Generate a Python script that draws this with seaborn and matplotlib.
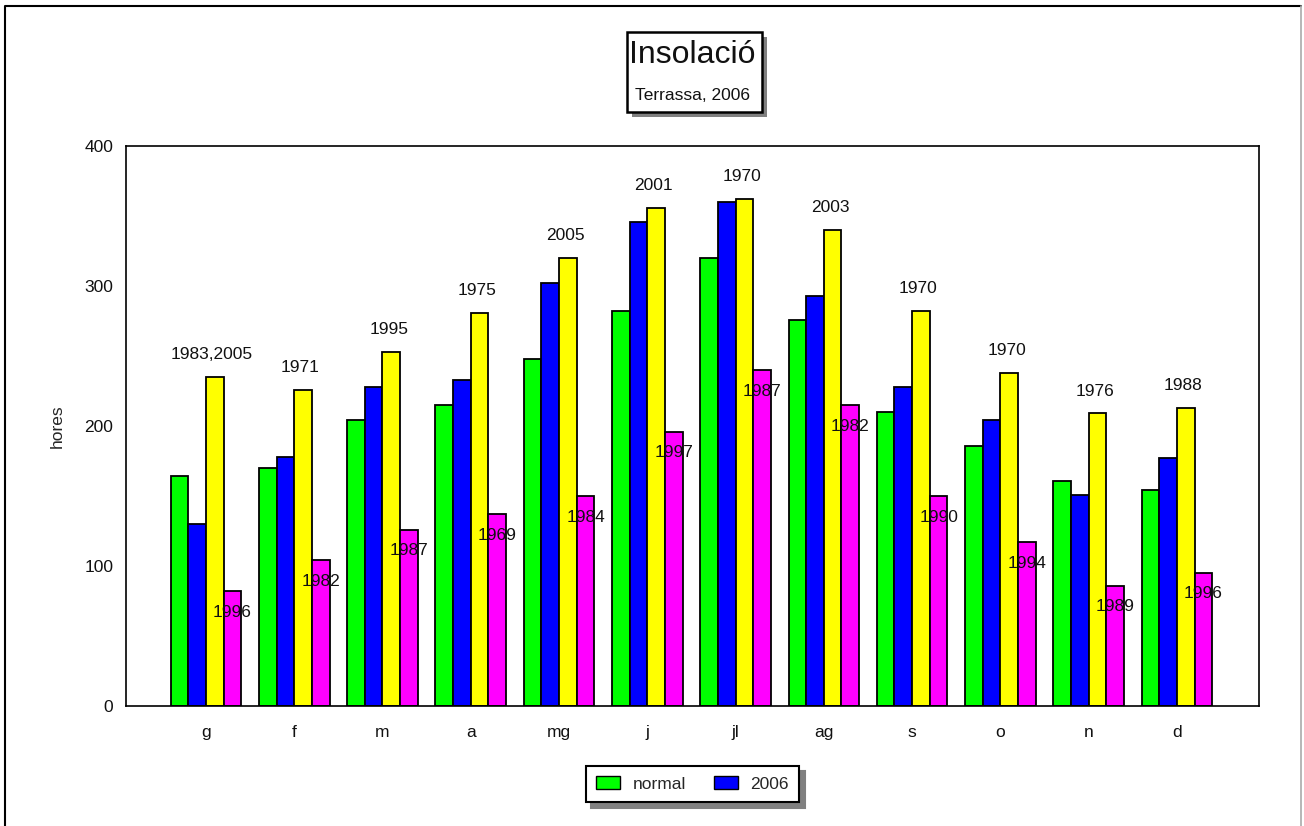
import pandas as pd
import matplotlib.pyplot as plt
import seaborn as sns
from matplotlib.patches import Patch, Rectangle
from matplotlib.lines import Line2D

# dades llegides del gràfic original
mesos = ['g', 'f', 'm', 'a', 'mg', 'j', 'jl', 'ag', 's', 'o', 'n', 'd']
normal = [164, 170, 204, 215, 248, 282, 320, 276, 210, 186, 161, 154]
any_2006 = [130, 178, 228, 233, 302, 346, 360, 293, 228, 204, 151, 177]
maxim = [235, 226, 253, 281, 320, 356, 362, 340, 282, 238, 209, 213]
minim = [82, 104, 126, 137, 150, 196, 240, 215, 150, 117, 86, 95]
anys_max = ['1983,2005', '1971', '1995', '1975', '2005', '2001',
            '1970', '2003', '1970', '1970', '1976', '1988']
anys_min = ['1996', '1982', '1987', '1969', '1984', '1997',
            '1987', '1982', '1990', '1994', '1989', '1996']

series = ['normal', '2006', 'max', 'min']
colors = ['#00ff00', '#0000ff', '#ffff00', '#ff00ff']

df = pd.DataFrame({
    'mes': mesos * 4,
    'serie': [s for s in series for _ in mesos],
    'hores': normal + any_2006 + maxim + minim,
})

sns.set_style('white')
plt.rcParams['font.family'] = ['Liberation Sans', 'DejaVu Sans']

fs = 12.5
fig = plt.figure(figsize=(13.04, 8.26), dpi=100)
ax = fig.add_axes([0.0966, 0.1453, 0.8689, 0.6779])

sns.barplot(data=df, x='mes', y='hores', hue='serie', order=mesos,
            hue_order=series, palette=colors, width=0.8,
            edgecolor='black', linewidth=1.3, saturation=1,
            legend=False, ax=ax)

# etiquetes dels anys extrems
for i in range(len(mesos)):
    ax.text(i + 0.07, maxim[i] + 16, anys_max[i], ha='center', va='center',
            fontsize=fs, color='#111111')
    ax.text(i + 0.3, minim[i] - 15, anys_min[i], ha='center', va='center',
            fontsize=fs, color='#111111')

ax.set_xlim(-0.906, 11.93)
ax.set_ylim(0, 400)
ax.set_yticks([0, 100, 200, 300, 400])
ax.tick_params(axis='y', direction='in', length=12, width=1.2,
               labelsize=fs, pad=9, colors='black', labelcolor='#111111')
ax.tick_params(axis='x', length=0, labelsize=fs, pad=14, labelcolor='#111111')
ax.set_xlabel('')
ax.set_ylabel('hores', fontsize=fs, labelpad=14)
for sp in ax.spines.values():
    sp.set_visible(True)
    sp.set_color('black')
    sp.set_linewidth(1.2)

# llegenda amb ombra
handles = [Patch(facecolor=colors[0], edgecolor='black', label='normal'),
           Patch(facecolor=colors[1], edgecolor='black', label='2006')]
leg = ax.legend(handles=handles, ncol=2, loc='center',
                bbox_to_anchor=(0.531, 0.0508), bbox_transform=fig.transFigure,
                fontsize=fs, frameon=True, fancybox=False,
                shadow={'color': '#808080', 'ox': 4, 'oy': -4, 'alpha': 1},
                handlelength=1.4, handleheight=0.8, columnspacing=1.6,
                borderpad=0.6, handletextpad=0.7)
leg.get_frame().set_edgecolor('black')
leg.get_frame().set_linewidth(1.5)
leg.get_frame().set_alpha(1)

# quadre del títol
x0, y0, w, h = 0.4808, 0.8644, 0.1035, 0.0969
fig.patches.append(Rectangle((x0 + 5 / 1304, y0 - 5 / 826), w, h,
                             transform=fig.transFigure, facecolor='#808080',
                             edgecolor='none', zorder=1))
fig.patches.append(Rectangle((x0, y0), w, h, transform=fig.transFigure,
                             facecolor='white', edgecolor='black',
                             linewidth=1.8, zorder=2))
fig.text(0.5307, 0.9334, 'Insolació', ha='center', va='center',
         fontsize=23, color='#111111', zorder=3)
fig.text(0.5307, 0.8838, 'Terrassa, 2006', ha='center', va='center',
         fontsize=fs, color='#111111', zorder=3)

# marc exterior
fig.lines.append(Line2D([5 / 1304, 5 / 1304, 1301 / 1304], [0, 820 / 826, 820 / 826],
                        transform=fig.transFigure, color='black', linewidth=1.5))
fig.lines.append(Line2D([1301 / 1304, 1301 / 1304], [0, 820 / 826],
                        transform=fig.transFigure, color='#aaaaaa', linewidth=1.2))

plt.savefig('out.png', dpi=100)
